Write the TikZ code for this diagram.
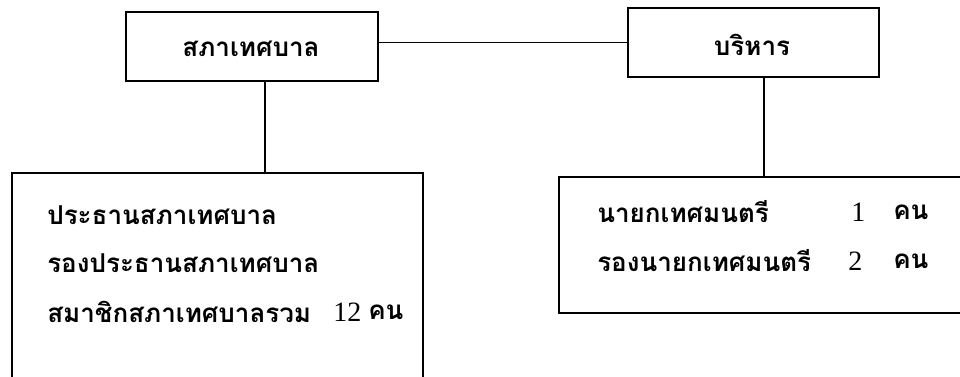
\documentclass[tikz,border=0pt]{standalone}
\usepackage{fontspec}
\newfontfamily\thaifont[Script=Thai]{Loma}
\newfontfamily\numfont{Liberation Serif}
\newcommand{\nm}[1]{{\numfont\mdseries\fontsize{21}{24}\selectfont #1}}
\begin{document}
\begin{tikzpicture}[x=0.75pt,y=-0.75pt,
  box/.style={draw,line width=1.4pt,inner sep=0pt,rectangle},
  thai/.style={font=\thaifont\bfseries\fontsize{19.5}{24}\selectfont,inner sep=0pt},
  txt/.style={thai,anchor=west},
  link/.style={line width=1.4pt}]
\useasboundingbox (0,0) rectangle (960,376);
\clip (0,0) rectangle (960,376);
\fill[white] (0,0) rectangle (960,376);
% boxes
\node[box,minimum width=189pt,minimum height=51.75pt] (A) at (252,46.5) {};
\node[box,minimum width=188.25pt,minimum height=51.75pt] (B) at (753.5,42.5) {};
\node[box,minimum width=308.25pt,minimum height=187.5pt] (C) at (217.5,298) {};
\node[box,minimum width=315pt,minimum height=102pt] (D) at (769,245) {};
% labels
\node[thai] (tA) at (251,49) {สภาเทศบาล};
\node[thai] (tB) at (752,45) {บริหาร};
\node[txt] (c1) at (47,215) {ประธานสภาเทศบาล};
\node[txt] (c2) at (47,263) {รองประธานสภาเทศบาล};
\node[txt] (c3) at (47,312) {สมาชิกสภาเทศบาลรวม};
\node[txt] (c3n) at (333,312) {\nm{12}};
\node[txt] (c3u) at (368,312) {คน};
\node[txt] (d1) at (597,212) {นายกเทศมนตรี};
\node[txt] (d1n) at (851,212) {\nm{1}};
\node[txt] (d1u) at (893,212) {คน};
\node[txt] (d2) at (597,261) {รองนายกเทศมนตรี};
\node[txt] (d2n) at (848,261) {\nm{2}};
\node[txt] (d2u) at (893,261) {คน};
% connectors
\coordinate (vA) at (265,0);
\coordinate (vB) at (764,0);
\draw[link] (B.west -| A.east) -- (B.west);
\draw[link] (A.south -| vA) -- (C.north -| vA);
\draw[link] (B.south -| vB) -- (D.north -| vB);
\end{tikzpicture}
\end{document}
